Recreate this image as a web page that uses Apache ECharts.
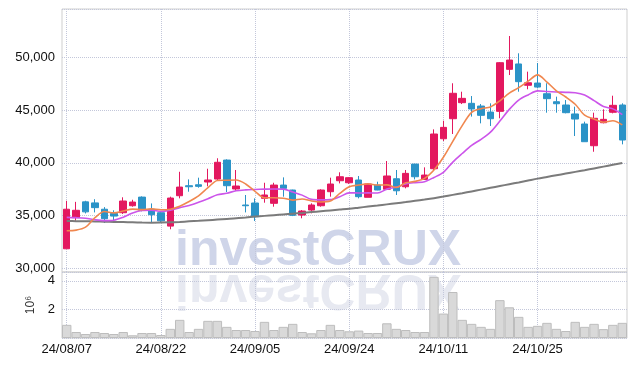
<!DOCTYPE html>
<html>
<head>
<meta charset="utf-8">
<script src="https://cdn.jsdelivr.net/npm/echarts@6/dist/echarts.min.js"></script>
<style>
html,body{margin:0;padding:0;background:#fff;}
#c{width:635px;height:366px;}
</style>
</head>
<body>
<div id="c"></div>
<script>
const dates = ['24/08/07','24/08/08','24/08/09','24/08/12','24/08/13','24/08/14','24/08/16','24/08/19','24/08/20','24/08/21',
'24/08/22','24/08/23','24/08/26','24/08/27','24/08/28','24/08/29','24/08/30','24/09/02','24/09/03','24/09/04',
'24/09/05','24/09/06','24/09/09','24/09/10','24/09/11','24/09/12','24/09/13','24/09/19','24/09/20','24/09/23',
'24/09/24','24/09/25','24/09/26','24/09/27','24/09/30','24/10/02','24/10/04','24/10/07','24/10/08','24/10/10',
'24/10/11','24/10/14','24/10/15','24/10/16','24/10/17','24/10/18','24/10/21','24/10/22','24/10/23','24/10/24',
'24/10/25','24/10/28','24/10/29','24/10/30','24/10/31','24/11/01','24/11/04','24/11/05','24/11/06','24/11/07'];

const opens = [31850,34800,36300,36200,35600,35200,35270,35930,36750,35600,35270,34000,36880,37830,37920,38180,38460,40260,37520,36000,
36190,36630,36160,37890,37420,35050,35520,35930,37260,38300,38110,38370,36730,37890,37490,38490,37730,39880,38430,39440,
42280,44180,45700,45640,45380,44810,44880,48860,49370,47350,47560,46550,45790,45480,44630,43680,41620,43800,44790,45480];
const highs = [36400,36300,36400,36550,35800,35500,36730,36500,36820,36150,35400,36790,39150,38430,38590,39440,40430,40330,39320,36950,
36630,38110,38110,38620,37450,35520,36160,37490,38590,39100,38650,38750,38050,38210,40170,39320,39320,39900,39570,43170,
43990,47540,46740,46330,45570,45640,49550,52020,50380,48640,49460,47540,46270,45950,45320,43900,44750,45070,46360,45640];
const lows = [31850,34500,35200,35300,34300,34350,35150,35840,35400,34350,34330,33700,36630,37260,37640,37770,38300,37230,37350,35300,
34480,36220,35840,36790,34950,34740,35210,35840,36790,38050,38000,36630,36730,37400,37420,36950,37580,38430,38370,39320,
42070,42730,45570,44380,43740,43490,44220,48320,46740,46970,47060,44750,44750,44690,42540,42000,41050,43740,44690,41750];
const closes = [35600,35500,35350,35750,34700,34950,36380,36280,35500,35080,34500,36660,37700,37730,37770,38370,40050,37830,37800,35930,
34890,36950,37890,37580,35020,35430,36000,37420,37990,38680,38590,36790,37990,37420,38750,37350,39000,38680,38840,42730,
43360,46590,46110,45100,44500,44180,49490,49740,47690,47590,47180,46080,45600,44750,44150,42000,44220,44120,45450,42160];

const volumes = [920000,420000,280000,420000,350000,280000,420000,190000,350000,350000,210000,640000,1270000,420000,640000,1200000,1200000,780000,560000,560000,
490000,1130000,560000,780000,990000,420000,330000,560000,920000,560000,470000,520000,350000,350000,1030000,640000,560000,420000,420000,4280000,
1710000,3220000,1270000,990000,780000,640000,2650000,2150000,1480000,780000,850000,1060000,640000,490000,1130000,780000,990000,620000,920000,1060000];

const ma5 = [33560,33620,33900,34800,35380,35250,35426,35612,35562,35638,35548,35604,35888,36334,36872,37646,38324,38350,38364,37996,
37300,36680,36692,36648,36466,36574,36384,36290,36372,37104,37736,37894,38008,37894,37908,37660,38102,38240,38524,39320,
40522,42040,43526,44778,45132,45296,45876,46602,47120,47738,48338,47656,46828,46240,45552,44516,44144,43848,43988,43590];
const ma10 = [34830,34800,34740,34600,34520,34560,34850,35250,35480,35509,35399,35515,35750,35948,36255,36597,36964,37119,37349,37434,
37473,37502,37521,37506,37231,36937,36532,36491,36510,36785,37155,37139,37149,37133,37506,37698,37998,38124,38209,38614,
39091,40071,40883,41651,42226,42909,43958,45064,45949,46435,46817,46766,46715,46680,46645,46427,45900,45338,45114,44571];
const ma60 = [34480,34470,34460,34440,34420,34400,34380,34360,34340,34330,34340,34360,34400,34450,34500,34560,34620,34680,34740,34820,
34900,34970,35040,35110,35180,35250,35330,35410,35490,35570,35650,35750,35850,35950,36060,36170,36280,36400,36520,36650,
36800,36960,37120,37290,37460,37630,37800,37970,38140,38320,38500,38660,38820,38980,39140,39300,39470,39640,39810,39980];

const candleData = opens.map((o, i) => [o, closes[i], lows[i], highs[i]]);

const FONT = '"Liberation Sans", Arial, sans-serif';
const gridLine = { show: true, lineStyle: { color: '#c3c7da', type: 'dotted', width: 1 } };

const chart = echarts.init(document.getElementById('c'), null, { renderer: 'canvas' });
chart.setOption({
  animation: false,
  backgroundColor: '#fff',
  graphic: [
    { type: 'text', z: -10, x: 175, y: 251,
      style: { text: 'investCRUX', font: 'bold 50px ' + FONT, fill: '#cfd5e9', align: 'left', verticalAlign: 'middle' } },
    { type: 'text', z: -10, x: 175, y: 251, scaleY: -1, originY: 19,
      style: { text: 'investCRUX', font: 'bold 50px ' + FONT, fill: '#e7e9f1', align: 'left', verticalAlign: 'middle' } }
  ],
  grid: [
    { left: 62, right: 8, top: 9, height: 263, show: true, borderColor: '#cfcfcf', borderWidth: 1, backgroundColor: 'transparent' },
    { left: 62, right: 8, top: 272, height: 66, show: true, borderColor: '#cfcfcf', borderWidth: 1, backgroundColor: 'transparent' }
  ],
  xAxis: [
    { type: 'category', gridIndex: 0, data: dates, boundaryGap: true,
      axisLine: { show: false }, axisTick: { show: false }, axisLabel: { show: false },
      splitLine: Object.assign({ interval: 9, alignWithLabel: true }, gridLine) },
    { type: 'category', gridIndex: 1, data: dates, boundaryGap: true,
      axisLine: { show: false }, axisTick: { show: false },
      axisLabel: { interval: 9, fontSize: 13, color: '#111', fontFamily: FONT, margin: 5 },
      splitLine: Object.assign({ interval: 9, alignWithLabel: true }, gridLine) }
  ],
  yAxis: [
    { type: 'value', gridIndex: 0, min: 29650, max: 54580, splitNumber: 5, scale: true,
      axisLine: { show: false }, axisTick: { show: false },
      axisLabel: { fontSize: 13, color: '#111', fontFamily: FONT, margin: 7, showMinLabel: false, showMaxLabel: false,
        formatter: v => v.toLocaleString('en-US') },
      splitLine: gridLine },
    { type: 'value', gridIndex: 1, min: 0, max: 4620000, splitNumber: 2,
      name: '10\u2076', nameLocation: 'middle', nameRotate: 90, nameGap: 22,
      nameTextStyle: { fontSize: 12, color: '#333', fontFamily: FONT },
      axisLine: { show: false }, axisTick: { show: false },
      axisLabel: { fontSize: 13, color: '#111', fontFamily: FONT, margin: 7, showMinLabel: false, showMaxLabel: false,
        formatter: v => String(v / 1e6) },
      splitLine: gridLine }
  ],
  series: [
    { type: 'bar', xAxisIndex: 1, yAxisIndex: 1, data: volumes, barCategoryGap: '0%',
      itemStyle: { color: '#d9d9d9', borderColor: '#bdbdbd', borderWidth: 1 } },
    { type: 'candlestick', xAxisIndex: 0, yAxisIndex: 0, data: candleData, barWidth: 7,
      itemStyle: { color: '#e3185f', color0: '#2b93c7', borderColor: '#e3185f', borderColor0: '#2b93c7', borderWidth: 1 } },
    { type: 'line', xAxisIndex: 0, yAxisIndex: 0, data: ma60, showSymbol: false, smooth: 0.3,
      lineStyle: { color: '#7b7b7b', width: 2 } },
    { type: 'line', xAxisIndex: 0, yAxisIndex: 0, data: ma10, showSymbol: false, smooth: 0.3,
      lineStyle: { color: '#cc55ea', width: 1.6 } },
    { type: 'line', xAxisIndex: 0, yAxisIndex: 0, data: ma5, showSymbol: false, smooth: 0.3,
      lineStyle: { color: '#f0874f', width: 1.6 } }
  ]
});
</script>
</body>
</html>
